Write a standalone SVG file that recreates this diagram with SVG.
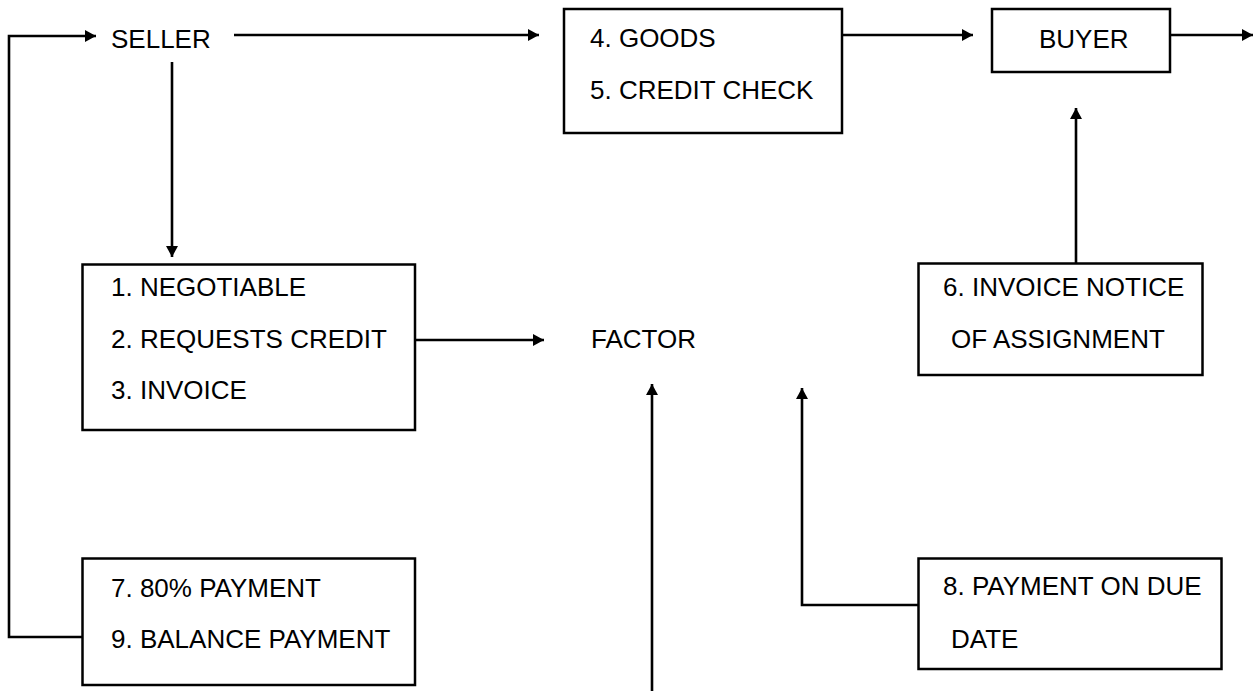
<svg xmlns="http://www.w3.org/2000/svg" width="1259" height="691" viewBox="0 0 1259 691">
<style>
.bg{fill:#fff}
.box{fill:#fff;stroke:#000;stroke-width:2.5}
.t{font-family:"Liberation Sans",Arial,sans-serif;font-size:26px;fill:#000}
.c{fill:none;stroke:#000;stroke-width:2.6}
</style>
<defs>
<marker id="ah" markerUnits="userSpaceOnUse" markerWidth="12" markerHeight="12" refX="11" refY="6" orient="auto">
<path d="M0,0 L11,6 L0,12 z" fill="#000"/>
</marker>
</defs>
<rect class="bg" x="0" y="0" width="1259" height="691"/>
<g id="connectors">
<polyline class="c" points="82,637 9,637 9,36 96,36" marker-end="url(#ah)"/>
<line class="c" x1="172" y1="62" x2="172" y2="257" marker-end="url(#ah)"/>
<line class="c" x1="234" y1="35" x2="539" y2="35" marker-end="url(#ah)"/>
<line class="c" x1="842" y1="35" x2="973" y2="35" marker-end="url(#ah)"/>
<line class="c" x1="1170" y1="35" x2="1253" y2="35" marker-end="url(#ah)"/>
<line class="c" x1="1076" y1="263" x2="1076" y2="108" marker-end="url(#ah)"/>
<line class="c" x1="415" y1="340" x2="544" y2="340" marker-end="url(#ah)"/>
<line class="c" x1="652" y1="691" x2="652" y2="384" marker-end="url(#ah)"/>
<polyline class="c" points="918,605 802,605 802,388" marker-end="url(#ah)"/>
</g>
<g id="seller">
<text class="t" x="111" y="48">SELLER</text>
</g>
<g id="goods">
<rect class="box" x="564" y="9" width="278" height="124"/>
<text class="t" x="590" y="47">4. GOODS</text>
<text class="t" x="590" y="99">5. CREDIT CHECK</text>
</g>
<g id="buyer">
<rect class="box" x="992" y="9" width="178" height="63"/>
<text class="t" x="1039" y="48">BUYER</text>
</g>
<g id="requests">
<rect class="box" x="82.5" y="264.5" width="332.5" height="165.5"/>
<text class="t" x="111" y="296">1. NEGOTIABLE</text>
<text class="t" x="111" y="348">2. REQUESTS CREDIT</text>
<text class="t" x="111" y="399">3. INVOICE</text>
</g>
<g id="factor">
<text class="t" x="591" y="348">FACTOR</text>
</g>
<g id="notice">
<rect class="box" x="918.5" y="263.5" width="284" height="111.5"/>
<text class="t" x="943" y="296">6. INVOICE NOTICE</text>
<text class="t" x="951" y="348">OF ASSIGNMENT</text>
</g>
<g id="payments">
<rect class="box" x="82.5" y="558.5" width="332.5" height="126.5"/>
<text class="t" x="111" y="597">7. 80% PAYMENT</text>
<text class="t" x="111" y="648">9. BALANCE PAYMENT</text>
</g>
<g id="due">
<rect class="box" x="918.5" y="558.5" width="303" height="110.5"/>
<text class="t" x="943" y="595">8. PAYMENT ON DUE</text>
<text class="t" x="951" y="648">DATE</text>
</g>
</svg>
